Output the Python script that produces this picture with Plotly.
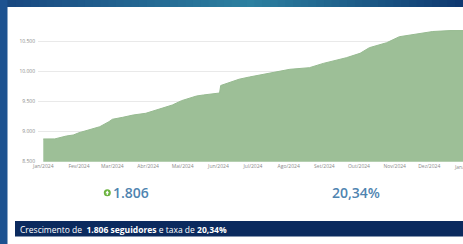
import plotly.graph_objects as go
from datetime import datetime

# ---- data ----
dates = ["2024-01-01", "2024-01-11", "2024-01-21", "2024-01-27", "2024-02-01", "2024-02-10",
         "2024-02-19", "2024-02-27", "2024-03-01", "2024-03-10", "2024-03-19", "2024-03-30",
         "2024-04-08", "2024-04-14", "2024-04-22", "2024-04-30", "2024-05-13", "2024-05-19",
         "2024-06-01", "2024-06-02", "2024-06-03", "2024-06-11", "2024-06-19", "2024-06-28",
         "2024-07-15", "2024-08-02", "2024-08-19", "2024-08-31", "2024-09-20", "2024-10-02",
         "2024-10-10", "2024-10-25", "2024-11-05", "2024-11-20", "2024-12-04", "2024-12-19",
         "2024-12-31"]
followers = [8879, 8880, 8928, 8945, 8983, 9028,
             9083, 9167, 9207, 9240, 9278, 9307,
             9362, 9407, 9445, 9517, 9595, 9612,
             9640, 9645, 9770, 9817, 9875, 9912,
             9973, 10040, 10067, 10138, 10233, 10307,
             10400, 10483, 10583, 10628, 10670, 10685,
             10685]
tick_dates = ["2024-01-01", "2024-02-01", "2024-03-01", "2024-04-01", "2024-05-01", "2024-06-01",
              "2024-07-01", "2024-08-01", "2024-09-01", "2024-10-01", "2024-11-01", "2024-12-01"]
tick_labels = ["Jan/2024", "Fev/2024", "Mar/2024", "Abr/2024", "Mai/2024", "Jun/2024",
               "Jul/2024", "Ago/2024", "Set/2024", "Out/2024", "Nov/2024", "Dez/2024"]
next_tick_date = "2025-01-01"
next_tick_label = "Jan/2025"
y_ticks = [8500, 9000, 9500, 10000, 10500]
y_labels = ["8.500", "9.000", "9.500", "10.000", "10.500"]
growth_label = "1.806"
rate_label = "20,34%"
footer = "Crescimento de&nbsp; <b>1.806 seguidores</b> e taxa de <b>20,34%</b>"

W, H = 463, 244
def px(x):
    return x / W
def py(y):
    return (H - y) / H

x_range = ["2023-12-27 10:00", "2024-12-30 07:00"]
x_domain = [px(38), 1.0]

def date_to_paper(d):
    fmt = "%Y-%m-%d %H:%M"
    t0 = datetime.strptime(x_range[0], fmt)
    t1 = datetime.strptime(x_range[1], fmt)
    t = datetime.strptime(d, "%Y-%m-%d")
    f = (t - t0).total_seconds() / (t1 - t0).total_seconds()
    return x_domain[0] + f * (x_domain[1] - x_domain[0])

fig = go.Figure()
fig.add_trace(go.Scatter(
    x=dates, y=followers, mode="lines", fill="tozeroy",
    line=dict(color="#96ba90", width=1, shape="linear"),
    fillcolor="#9dbf97", hoverinfo="skip", showlegend=False))

shapes = []
# top gradient band
def lerp(c1, c2, t):
    return tuple(int(round(a + (b - a) * t)) for a, b in zip(c1, c2))
stops = [(0, (24, 70, 128)), (250, (44, 128, 160)), (463, (14, 56, 112))]
n = 60
for i in range(n):
    x0 = W * i / n
    x1 = W * (i + 1) / n
    xc = (x0 + x1) / 2
    for (sa, ca), (sb, cb) in zip(stops[:-1], stops[1:]):
        if sa <= xc <= sb:
            c = lerp(ca, cb, (xc - sa) / (sb - sa))
            break
    shapes.append(dict(type="rect", xref="paper", yref="paper",
                       x0=px(x0), x1=px(x1) + 0.002, y0=py(7), y1=py(0),
                       fillcolor="rgb(%d,%d,%d)" % c, line=dict(width=0), layer="above"))
# left strip
shapes.append(dict(type="rect", xref="paper", yref="paper", x0=0, x1=px(7.5), y0=0, y1=1,
                   fillcolor="#1d5290", line=dict(width=0), layer="above"))
# bottom navy bar
shapes.append(dict(type="rect", xref="paper", yref="paper", x0=px(15), x1=1, y0=py(236.5), y1=py(221),
                   fillcolor="#0b2a5e", line=dict(width=0), layer="above"))
# green circle with up arrow
shapes.append(dict(type="circle", xref="paper", yref="paper", x0=px(103.8), x1=px(110.8),
                   y0=py(196.2), y1=py(189.2), fillcolor="#6cb33f", line=dict(width=0), layer="above"))
shapes.append(dict(type="path", xref="paper", yref="paper",
                   path="M %f %f L %f %f L %f %f Z" % (px(107.3), py(190.6), px(105.4), py(193.2), px(109.2), py(193.2)),
                   fillcolor="white", line=dict(width=0), layer="above"))
shapes.append(dict(type="rect", xref="paper", yref="paper", x0=px(106.7), x1=px(107.9),
                   y0=py(195.0), y1=py(193.0), fillcolor="white", line=dict(width=0), layer="above"))

annotations = [
    dict(text=growth_label, xref="paper", yref="paper", x=px(110.5), y=py(192.8), xanchor="left", yanchor="middle",
         showarrow=False, font=dict(family="Open Sans", size=14, color="#4f84b0", weight=600)),
    dict(text=rate_label, xref="paper", yref="paper", x=px(356), y=py(192.8), xanchor="center", yanchor="middle",
         showarrow=False, font=dict(family="Open Sans", size=14, color="#4f84b0", weight=600)),
    dict(text=footer, xref="paper", yref="paper", x=px(18), y=py(229), xanchor="left", yanchor="middle",
         showarrow=False, font=dict(family="Open Sans", size=8.5, color="white")),
    dict(text=next_tick_label, xref="paper", yref="paper", x=date_to_paper(next_tick_date), y=py(167),
         xanchor="center", yanchor="middle", showarrow=False,
         font=dict(family="Open Sans", size=5, color="#8a8a8a")),
]

fig.update_layout(
    width=W, height=H, margin=dict(l=0, r=0, t=0, b=0, autoexpand=False),
    paper_bgcolor="white", plot_bgcolor="white",
    shapes=shapes, annotations=annotations,
    xaxis=dict(domain=x_domain, type="date", automargin=False,
               range=x_range,
               tickvals=tick_dates, ticktext=tick_labels, showgrid=False, zeroline=False,
               showline=False, ticks="", tickfont=dict(family="Open Sans", size=5, color="#8a8a8a"),
               ticklabelstandoff=0),
    yaxis=dict(domain=[py(161.7), py(17.7)], range=[8500, 10900], automargin=False,
               tickvals=y_ticks, ticktext=y_labels, showgrid=True, gridcolor="#e9e9e9", gridwidth=1,
               zeroline=False, showline=False, ticks="",
               tickfont=dict(family="Open Sans", size=5, color="#8a8a8a"), ticklabelstandoff=2),
)

fig.write_html("out.html", config={"displayModeBar": False},
               post_script="document.body.style.margin='0';document.body.style.overflow='hidden';")
